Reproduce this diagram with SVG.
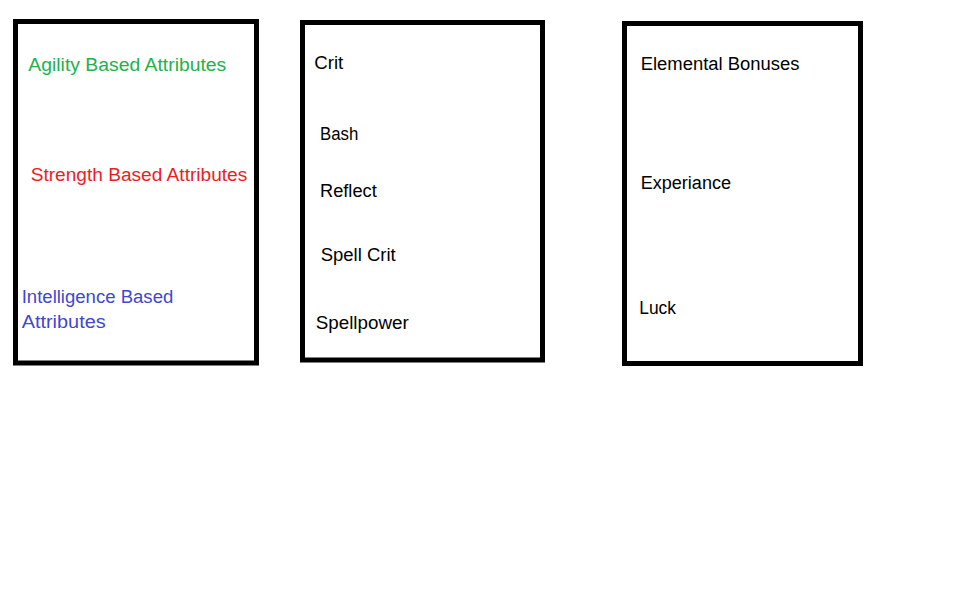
<svg xmlns="http://www.w3.org/2000/svg" width="972" height="614" viewBox="0 0 972 614">
<style>
.box{fill:#fff;stroke:#000;stroke-width:5}
text{font-family:"Liberation Sans",Arial,sans-serif;font-size:18px;fill:#000}
.g{fill:#22b14c}.r{fill:#ed1c24}.b{fill:#3f48cc}
</style>
<rect width="972" height="614" fill="#fff"/>
<g id="connectors"/>
<g id="attributes">
<rect class="box" x="15.5" y="21.5" width="241" height="341.5"/>
<text class="g" x="28.3" y="70.7" textLength="198" lengthAdjust="spacingAndGlyphs">Agility Based Attributes</text>
<text class="r" x="30.7" y="180.7" textLength="216.6" lengthAdjust="spacingAndGlyphs">Strength Based Attributes</text>
<text class="b" x="21.7" y="303.3" textLength="151.6" lengthAdjust="spacingAndGlyphs">Intelligence Based</text>
<text class="b" x="21.7" y="328.3" textLength="84" lengthAdjust="spacingAndGlyphs">Attributes</text>
</g>
<g id="stats">
<rect class="box" x="302.5" y="22.5" width="240" height="337.5"/>
<text x="314.3" y="69" textLength="29" lengthAdjust="spacingAndGlyphs">Crit</text>
<text x="320" y="140" textLength="38.3" lengthAdjust="spacingAndGlyphs">Bash</text>
<text x="320" y="196.7" textLength="56.7" lengthAdjust="spacingAndGlyphs">Reflect</text>
<text x="320.7" y="260.7" textLength="75" lengthAdjust="spacingAndGlyphs">Spell Crit</text>
<text x="315.7" y="329.3" textLength="93" lengthAdjust="spacingAndGlyphs">Spellpower</text>
</g>
<g id="bonuses">
<rect class="box" x="624.5" y="23.5" width="236" height="340"/>
<text x="640.7" y="70" textLength="158.7" lengthAdjust="spacingAndGlyphs">Elemental Bonuses</text>
<text x="640.7" y="189" textLength="90.3" lengthAdjust="spacingAndGlyphs">Experiance</text>
<text x="639.3" y="314" textLength="36.7" lengthAdjust="spacingAndGlyphs">Luck</text>
</g>
</svg>
